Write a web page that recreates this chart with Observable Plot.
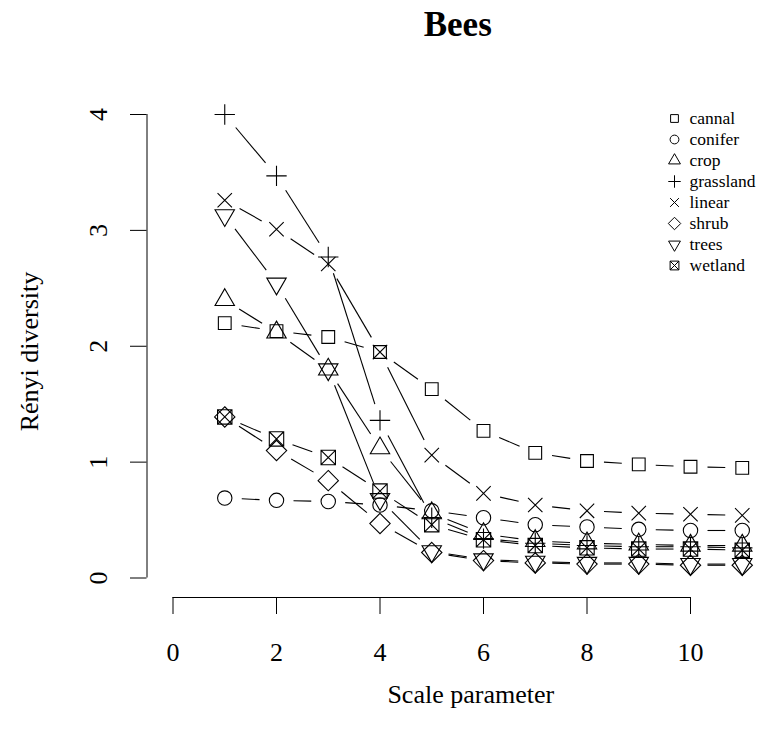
<!DOCTYPE html>
<html>
<head>
<meta charset="utf-8">
<script src="https://cdn.jsdelivr.net/npm/d3@7"></script>
<script src="https://cdn.jsdelivr.net/npm/@observablehq/plot@0.6"></script>
<style>
  body { margin: 0; background: #fff; }
  #wrap { position: relative; width: 761px; height: 746px; }
  #legend { position: absolute; left: 655px; top: 100px; }
</style>
</head>
<body>
<div id="wrap"><div id="legend"></div></div>
<script>
// ---- data ----
const scaleParam = [1, 2, 3, 4, 5, 6, 7, 8, 9, 10, 11];
const habitats = ["cannal", "conifer", "crop", "grassland", "linear", "shrub", "trees", "wetland"];
const cannal    = [2.20, 2.13, 2.08, 1.95, 1.63, 1.27, 1.08, 1.01, 0.98, 0.96, 0.95];
const conifer   = [0.69, 0.67, 0.66, 0.63, 0.58, 0.52, 0.46, 0.44, 0.42, 0.41, 0.41];
const crop      = [2.40, 2.12, 1.80, 1.12, 0.56, 0.38, 0.32, 0.30, 0.29, 0.28, 0.28];
const grassland = [4.00, 3.47, 2.77, 1.36, 0.52, 0.34, 0.30, 0.28, 0.27, 0.27, 0.26];
const linear    = [3.26, 3.01, 2.71, 1.95, 1.06, 0.73, 0.63, 0.58, 0.56, 0.55, 0.54];
const shrub     = [1.39, 1.10, 0.84, 0.47, 0.22, 0.15, 0.13, 0.12, 0.12, 0.11, 0.11];
const trees     = [3.13, 2.54, 1.80, 0.68, 0.23, 0.16, 0.14, 0.13, 0.13, 0.12, 0.12];
const wetland   = [1.39, 1.20, 1.04, 0.75, 0.46, 0.33, 0.28, 0.26, 0.25, 0.25, 0.24];
const xTicks = [0, 2, 4, 6, 8, 10];
const yTicks = [0, 1, 2, 3, 4];
const titleText = "Bees";
const xLabel = "Scale parameter";
const yLabel = "Rényi diversity";

// ---- R-like plotting symbols (pch 0..7) ----
const RC = {sq: 0.8862, t0: 1.5551, t1: 1.3468, t2: 0.7776};
const rad = size => Math.sqrt(size / Math.PI);
const symSquare = {draw(c, s) { const h = rad(s) * RC.sq; c.moveTo(-h, -h); c.lineTo(h, -h); c.lineTo(h, h); c.lineTo(-h, h); c.closePath(); }};
const symCircle = {draw(c, s) { const r = rad(s); c.moveTo(r, 0); c.arc(0, 0, r, 0, 2 * Math.PI); }};
const symTriUp = {draw(c, s) { const r = rad(s); c.moveTo(0, -RC.t0 * r); c.lineTo(RC.t1 * r, RC.t2 * r); c.lineTo(-RC.t1 * r, RC.t2 * r); c.closePath(); }};
const symPlus = {draw(c, s) { const h = rad(s) * Math.SQRT2; c.moveTo(-h, 0); c.lineTo(h, 0); c.moveTo(0, -h); c.lineTo(0, h); }};
const symTimes = {draw(c, s) { const h = rad(s); c.moveTo(-h, -h); c.lineTo(h, h); c.moveTo(-h, h); c.lineTo(h, -h); }};
const symDiamond = {draw(c, s) { const h = rad(s) * Math.SQRT2; c.moveTo(0, -h); c.lineTo(h, 0); c.lineTo(0, h); c.lineTo(-h, 0); c.closePath(); }};
const symTriDown = {draw(c, s) { const r = rad(s); c.moveTo(0, RC.t0 * r); c.lineTo(RC.t1 * r, -RC.t2 * r); c.lineTo(-RC.t1 * r, -RC.t2 * r); c.closePath(); }};
const symSqTimes = {draw(c, s) { const h = rad(s); c.moveTo(-h, -h); c.lineTo(h, -h); c.lineTo(h, h); c.lineTo(-h, h); c.closePath(); c.moveTo(-h, -h); c.lineTo(h, h); c.moveTo(-h, h); c.lineTo(h, -h); }};
const symbols = [symSquare, symCircle, symTriUp, symPlus, symTimes, symDiamond, symTriDown, symSqTimes];

// ---- build tables ----
const values = {cannal, conifer, crop, grassland, linear, shrub, trees, wetland};
const rows = habitats.flatMap(h => values[h].map((v, i) => ({habitat: h, q: scaleParam[i], value: v})));

const xOpt = {domain: [0, 10], range: [172.5, 690]};
const yOpt = {domain: [0, 4], range: [577.5, 114]};
const xs = Plot.scale({x: xOpt});
const ys = Plot.scale({y: yOpt});

// type = "b" segments: gaps around each point, computed in pixel space through the scales
const GAP = 17;
const segs = [];
for (const h of habitats) {
  const v = values[h];
  for (let i = 0; i < v.length - 1; i++) {
    const px0 = xs.apply(scaleParam[i]), py0 = ys.apply(v[i]);
    const px1 = xs.apply(scaleParam[i + 1]), py1 = ys.apply(v[i + 1]);
    const dx = px1 - px0, dy = py1 - py0, L = Math.hypot(dx, dy);
    if (L <= 2 * GAP) continue;
    const ux = dx / L, uy = dy / L;
    segs.push({
      x1: xs.invert(px0 + ux * GAP), y1: ys.invert(py0 + uy * GAP),
      x2: xs.invert(px1 - ux * GAP), y2: ys.invert(py1 - uy * GAP)
    });
  }
}

const font = "'Liberation Serif', 'Times New Roman', serif";

const chart = Plot.plot({
  width: 761, height: 746,
  marginLeft: 172.5, marginRight: 71, marginTop: 114, marginBottom: 149,
  style: {fontFamily: font, fontSize: "26px", background: "white", color: "black", overflow: "visible"},
  x: {...xOpt, axis: null},
  y: {...yOpt, axis: null},
  symbol: {domain: habitats, range: symbols},
  marks: [
    Plot.ruleY([0], {x1: d3.min(xTicks), x2: d3.max(xTicks), dy: 19.5, stroke: "black", strokeWidth: 1}),
    Plot.axisX({ticks: xTicks, tickSize: 17, tickPadding: 28, tickFormat: d => String(d), fontSize: 26, label: null, stroke: "black"}),
    Plot.ruleX([0], {y1: d3.min(yTicks), y2: d3.max(yTicks), dx: -26, stroke: "black", strokeWidth: 1}),
    Plot.axisY({anchor: "left", ticks: yTicks, tickSize: 16.5, dx: -26, tickFormat: () => "", label: null, stroke: "black"}),
    Plot.text(yTicks, {y: d => d, text: d => String(d), frameAnchor: "left", dx: -74, rotate: -90, textAnchor: "middle", lineAnchor: "middle", fontSize: 26, fill: "black"}),
    Plot.link(segs, {x1: "x1", y1: "y1", x2: "x2", y2: "y2", stroke: "black", strokeWidth: 1.1}),
    Plot.dot(rows, {x: "q", y: "value", symbol: "habitat", r: 7.2, fill: "none", stroke: "black", strokeWidth: 1.1}),
    Plot.text([titleText], {frameAnchor: "top", dx: 26, dy: -90, textAnchor: "middle", fontWeight: "bold", fontSize: 35, lineAnchor: "middle", fill: "black"}),
    Plot.text([xLabel], {frameAnchor: "bottom", dx: 39, dy: 97, textAnchor: "middle", fontSize: 26, lineAnchor: "middle", fill: "black"}),
    Plot.text([yLabel], {frameAnchor: "left", dx: -143, dy: -4.5, rotate: -90, textAnchor: "middle", fontSize: 26, lineAnchor: "middle", fill: "black"})
  ]
});
document.getElementById("wrap").prepend(chart);

const legend = Plot.plot({
  width: 106, height: 180, margin: 0,
  style: {fontFamily: font, fontSize: "17px", background: "transparent", color: "black"},
  x: {domain: [0, 1], axis: null},
  y: {type: "point", domain: habitats, range: [17, 166], padding: 0, axis: null},
  symbol: {domain: habitats, range: symbols},
  marks: [
    Plot.dot(habitats, {y: d => d, symbol: d => d, frameAnchor: "left", dx: 19, r: 4.4, fill: "none", stroke: "black", strokeWidth: 1}),
    Plot.text(habitats, {y: d => d, text: d => d, frameAnchor: "left", dx: 34, textAnchor: "start", fontSize: 17.5, fill: "black"})
  ]
});
document.getElementById("legend").appendChild(legend);
</script>
</body>
</html>
